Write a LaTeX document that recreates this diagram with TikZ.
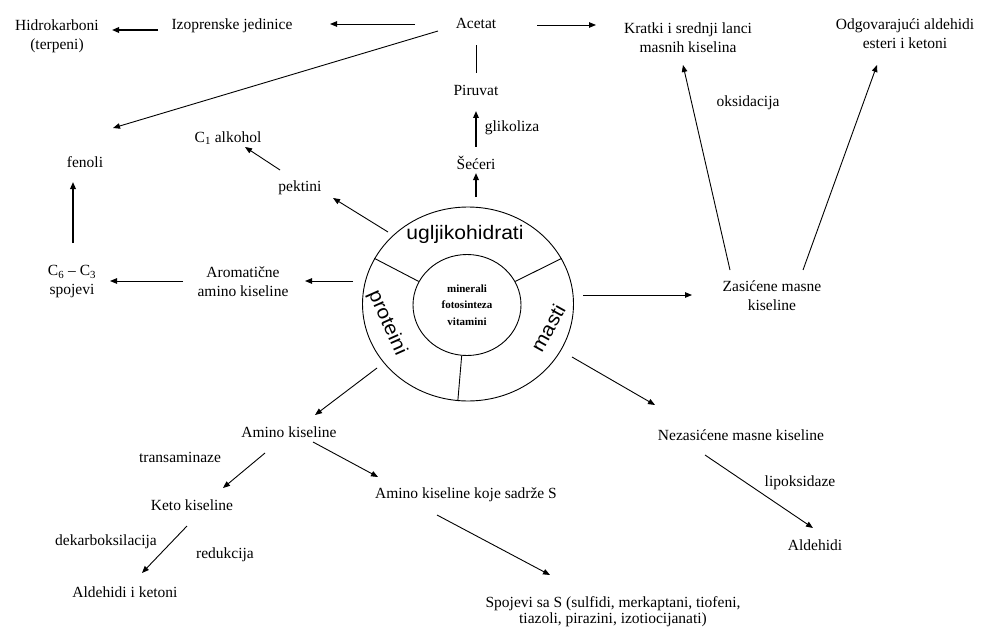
\documentclass[tikz,border=0pt]{standalone}
\usepackage{fontspec}
\setmainfont{Liberation Serif}
\newfontfamily\ringfont[FakeStretch=1.08]{Liberation Sans}
\usetikzlibrary{arrows.meta,shapes.geometric}
\begin{document}
\begin{tikzpicture}[x=1pt,y=-1pt,
  lbl/.style={inner sep=0pt, font=\fontsize{15.5}{19}\selectfont, align=center},
  arr/.style={line width=0.9pt, -{Triangle[length=7pt,width=5.5pt]}},
  thickarr/.style={arr, line width=1.6pt},
  plain/.style={line width=0.9pt},
  ringlbl/.style={inner sep=0pt, font=\ringfont\fontsize{19.5}{20}\selectfont},
  ]
\fill[white] (0,0) rectangle (981,631);
\useasboundingbox (0,0) rectangle (981,631);

% central rings
\node[draw, ellipse, line width=0.9pt, minimum width=211pt, minimum height=194pt, inner sep=0pt] (ring) at (468,304) {};
\node[draw, ellipse, line width=0.9pt, minimum width=108pt, minimum height=101pt, inner sep=0pt,
      align=center, font=\fontsize{11}{16.5}\selectfont\bfseries] (core) at (467,305) {minerali\\fotosinteza\\vitamini};
\draw[plain] (core.154) -- (ring.154);
\draw[plain] (core.26) -- (ring.26);
\draw[plain] (core.264) -- (ring.264);
\node[ringlbl] (ugl) at (465,234) {ugljikohidrati};
\node[ringlbl, rotate=-66] (prot) at (387,323) {proteini};
\node[ringlbl, rotate=61] (mast) at (548,328) {masti};

% text nodes
\node[lbl] (acetat) at (476,23) {Acetat};
\node[lbl] (izo) at (232,26) {Izoprenske jedinice};
\node[lbl] (hidro) at (57,36) {Hidrokarboni\\(terpeni)};
\node[lbl] (piruvat) at (476,90) {Piruvat};
\node[lbl] (glik) at (512,128) {glikoliza};
\node[lbl] (seceri) at (476,163) {Šećeri};
\node[lbl] (c1) at (228,138) {C\textsubscript{1} alkohol};
\node[lbl] (pektini) at (300,188) {pektini};
\node[lbl] (fenoli) at (85,162) {fenoli};
\node[lbl] (c6c3) at (72,282) {C\textsubscript{6} – C\textsubscript{3}\\spojevi};
\node[lbl] (arom) at (243,282) {Aromatične\\amino kiseline};
\node[lbl] (kratki) at (688,38) {Kratki i srednji lanci\\masnih kiselina};
\node[lbl] (odgov) at (905,34) {Odgovarajući aldehidi\\esteri i ketoni};
\node[lbl] (oksid) at (748,103) {oksidacija};
\node[lbl] (zasic) at (772,296) {Zasićene masne\\kiseline};
\node[lbl] (amino) at (289,432) {Amino kiseline};
\node[lbl] (trans) at (180,457) {transaminaze};
\node[lbl] (keto) at (192,505) {Keto kiseline};
\node[lbl] (aminoS) at (466,495) {Amino kiseline koje sadrže S};
\node[lbl] (dekarb) at (106,542) {dekarboksilacija};
\node[lbl] (reduk) at (225,555) {redukcija};
\node[lbl] (aldket) at (125,592) {Aldehidi i ketoni};
\node[lbl, font=\fontsize{15.5}{16}\selectfont] (spojS) at (613,612) {Spojevi sa S (sulfidi, merkaptani, tiofeni,\\tiazoli, pirazini, izotiocijanati)};
\node[lbl] (nezas) at (741,435) {Nezasićene masne kiseline};
\node[lbl] (lipok) at (800,483) {lipoksidaze};
\node[lbl] (aldeh) at (815,545) {Aldehidi};

% connectors
\draw[arr] ([shift={(-61,1)}]acetat.center) -- ([shift={(98,-2)}]izo.center);
\draw[thickarr] ([shift={(-74,4)}]izo.center) -- ([shift={(55,-6)}]hidro.center);
\draw[arr] ([shift={(-38,8)}]acetat.center) -- ([shift={(28,-34)}]fenoli.center);
\draw[plain] ([shift={(0,-17)}]piruvat.center) -- ([shift={(0,22)}]acetat.center);
\draw[thickarr] ([shift={(0,-16)}]seceri.center) -- ([shift={(0,21)}]piruvat.center);
\draw[thickarr] ([shift={(8,-107)}]ring.center) -- ([shift={(0,10)}]seceri.center);
\draw[arr] ([shift={(-80,-72)}]ring.center) -- ([shift={(33,10)}]pektini.center);
\draw[arr] ([shift={(-20,-18)}]pektini.center) -- ([shift={(17,9)}]c1.center);
\draw[thickarr] ([shift={(1,-39)}]c6c3.center) -- ([shift={(-12,20)}]fenoli.center);
\draw[arr] ([shift={(-115,-23)}]ring.center) -- ([shift={(62,-1)}]arom.center);
\draw[arr] ([shift={(-60,-1)}]arom.center) -- ([shift={(38,-1)}]c6c3.center);
\draw[arr] ([shift={(61,2)}]acetat.center) -- ([shift={(-92,-13)}]kratki.center);
\draw[arr] ([shift={(115,-9)}]ring.center) -- ([shift={(-80,-1)}]zasic.center);
\draw[arr] ([shift={(-42,-26)}]zasic.center) -- ([shift={(-5,27)}]kratki.center);
\draw[arr] ([shift={(31,-26)}]zasic.center) -- ([shift={(-28,31)}]odgov.center);
\draw[arr] ([shift={(-91,64)}]ring.center) -- ([shift={(26,-17)}]amino.center);
\draw[arr] ([shift={(-24,21)}]amino.center) -- ([shift={(31,-17)}]keto.center);
\draw[arr] ([shift={(24,10)}]amino.center) -- ([shift={(-88,-18)}]aminoS.center);
\draw[arr] ([shift={(-5,21)}]keto.center) -- ([shift={(17,-19)}]aldket.center);
\draw[arr] ([shift={(-29,20)}]aminoS.center) -- ([shift={(-63,-37)}]spojS.center);
\draw[arr] ([shift={(104,53)}]ring.center) -- ([shift={(-86,-30)}]nezas.center);
\draw[arr] ([shift={(-36,20)}]nezas.center) -- ([shift={(-2,-17)}]aldeh.center);
\end{tikzpicture}
\end{document}
